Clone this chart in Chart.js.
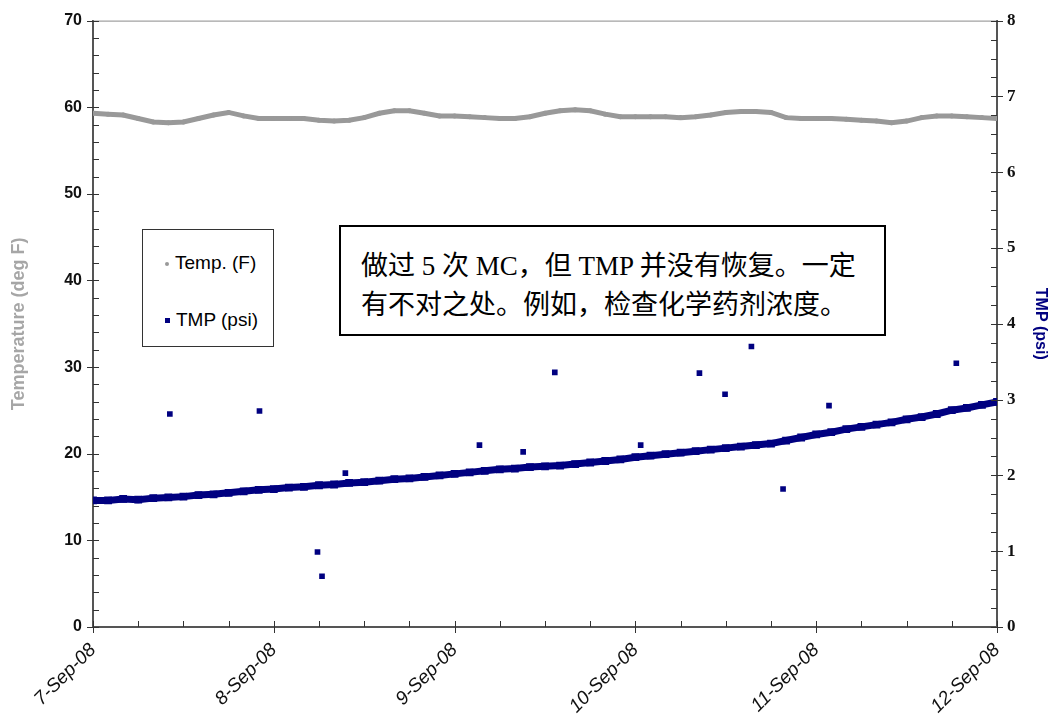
<!DOCTYPE html>
<html lang="zh">
<head>
    <meta charset="UTF-8">
    <title>Temp. (F) / TMP (psi)</title>
    <script src="https://cdn.jsdelivr.net/npm/chart.js"></script>
    <style>
        body { margin: 0; background: #fff; }
        #wrap { position: relative; width: 1050px; height: 724px; }
        #legendBox {
            position: absolute; left: 142px; top: 229px; width: 132px; height: 118px;
            border: 1px solid #333; background: #fff; box-sizing: border-box;
            font: 19px "Liberation Sans", Arial, sans-serif; color: #000;
        }
        #legendBox .item { position: absolute; left: 22px; line-height: 22px; }
        #legendBox .mark { display: inline-block; vertical-align: middle; margin-right: 6px; }
        #noteBox {
            position: absolute; left: 339px; top: 225px; width: 547px; height: 111px;
            border: 2px solid #000; background: #fff; box-sizing: border-box;
            padding: 17px 0 0 20px; line-height: 36px; white-space: nowrap;
            font: 27px "Liberation Serif", "Noto Sans CJK SC", serif; color: #000;
        }
    </style>
</head>
<body>
<div id="wrap">
    <canvas id="tmpChart"></canvas>
    <div id="legendBox">
        <div class="item" style="top:22px"><span class="mark" style="width:4px;height:4px;border-radius:50%;background:#999"></span>Temp. (F)</div>
        <div class="item" style="top:79px"><span class="mark" style="width:5px;height:5px;background:#000080"></span>TMP (psi)</div>
    </div>
    <div id="noteBox">做过 5 次 MC，但 TMP 并没有恢复。一定<br>有不对之处。例如，检查化学药剂浓度。</div>
</div>

<script>
    // horas desde 7-Sep-08 00:00
    const hours = [0, 2, 4, 6, 8, 10, 12, 14, 16, 18, 20, 22, 24, 26, 28, 30, 32, 34, 36, 38,
        40, 42, 44, 46, 48, 50, 52, 54, 56, 58, 60, 62, 64, 66, 68, 70, 72, 74, 76, 78,
        80, 82, 84, 86, 88, 90, 92, 94, 96, 98, 100, 102, 104, 106, 108, 110, 112, 114, 116, 118, 120];

    const tempF = [59.3, 59.2, 59.1, 58.7, 58.3, 58.2, 58.3, 58.7, 59.1, 59.4, 59.0, 58.7, 58.7, 58.7, 58.7, 58.5, 58.4, 58.5, 58.8, 59.3,
        59.6, 59.6, 59.3, 59.0, 59.0, 58.9, 58.8, 58.7, 58.7, 58.9, 59.3, 59.6, 59.7, 59.6, 59.2, 58.9, 58.9, 58.9, 58.9, 58.8,
        58.9, 59.1, 59.4, 59.5, 59.5, 59.4, 58.8, 58.7, 58.7, 58.7, 58.6, 58.5, 58.4, 58.2, 58.4, 58.8, 59.0, 59.0, 58.9, 58.8, 58.7];

    const tmpPsi = [1.67, 1.67, 1.69, 1.68, 1.70, 1.71, 1.72, 1.74, 1.75, 1.77, 1.79, 1.81, 1.82, 1.84, 1.85, 1.87, 1.88, 1.90, 1.91, 1.93,
        1.95, 1.96, 1.98, 2.00, 2.02, 2.04, 2.06, 2.08, 2.09, 2.11, 2.12, 2.13, 2.15, 2.17, 2.19, 2.21, 2.24, 2.26, 2.28, 2.30,
        2.32, 2.34, 2.36, 2.38, 2.40, 2.42, 2.46, 2.50, 2.54, 2.57, 2.61, 2.64, 2.67, 2.70, 2.74, 2.77, 2.81, 2.86, 2.89, 2.93, 2.97];

    // puntos sueltos de TMP
    const outlierHours = [10.2, 22.1, 29.8, 30.4, 33.5, 51.3, 57.1, 61.3, 72.7, 80.5, 83.9, 87.4, 91.6, 97.7, 114.6];
    const outlierTmp = [2.81, 2.85, 0.99, 0.67, 2.03, 2.40, 2.31, 3.36, 2.40, 3.35, 3.07, 3.70, 1.82, 2.92, 3.48];

    const dateLabels = ['7-Sep-08', '8-Sep-08', '9-Sep-08', '10-Sep-08', '11-Sep-08', '12-Sep-08'];

    const toPoints = (xs, ys) => xs.map((x, i) => ({ x: x, y: ys[i] }));

    // marcas de los ejes al estilo Excel (mayores cruzan el eje, menores hacia dentro)
    const tickMarks = {
        id: 'tickMarks',
        afterDraw(chart) {
            const ctx = chart.ctx, a = chart.chartArea;
            const sx = chart.scales.x, yl = chart.scales.yTemp, yr = chart.scales.yTmp;
            ctx.save();
            ctx.strokeStyle = '#8a8a8a';
            ctx.lineWidth = 1;
            ctx.beginPath();
            ctx.moveTo(a.left, a.top + 0.5);
            ctx.lineTo(a.right, a.top + 0.5);
            ctx.stroke();
            ctx.strokeStyle = '#333';
            ctx.beginPath();
            for (let h = 0; h <= 120; h += 6) {
                const px = Math.round(sx.getPixelForValue(h)) + 0.5;
                const major = h % 24 === 0;
                ctx.moveTo(px, a.bottom - 6);
                ctx.lineTo(px, major ? a.bottom + 6 : a.bottom);
            }
            for (let v = 0; v <= 70; v += 2) {
                const py = Math.round(yl.getPixelForValue(v)) + 0.5;
                const major = v % 10 === 0;
                ctx.moveTo(major ? a.left - 6 : a.left, py);
                ctx.lineTo(a.left + 6, py);
            }
            for (let v = 0; v <= 8; v += 0.25) {
                const py = Math.round(yr.getPixelForValue(v)) + 0.5;
                const major = v % 1 === 0;
                ctx.moveTo(a.right - 6, py);
                ctx.lineTo(major ? a.right + 6 : a.right, py);
            }
            ctx.stroke();
            ctx.restore();
        }
    };

    const ctx = document.getElementById('tmpChart').getContext('2d');
    new Chart(ctx, {
        type: 'scatter',
        data: {
            datasets: [{
                label: 'Temp. (F)',
                data: toPoints(hours, tempF),
                yAxisID: 'yTemp',
                showLine: true,
                borderColor: '#999999',
                backgroundColor: '#999999',
                borderWidth: 5,
                pointStyle: 'circle',
                pointRadius: 2.5,
                pointBorderWidth: 0
            }, {
                label: 'TMP (psi)',
                data: toPoints(hours, tmpPsi),
                yAxisID: 'yTmp',
                showLine: true,
                borderColor: '#000080',
                backgroundColor: '#000080',
                borderWidth: 7,
                pointStyle: 'rect',
                pointRadius: 5.5,
                pointBorderWidth: 0
            }, {
                label: 'TMP (psi) outliers',
                data: toPoints(outlierHours, outlierTmp),
                yAxisID: 'yTmp',
                showLine: false,
                backgroundColor: '#000080',
                pointStyle: 'rect',
                pointRadius: 4,
                pointBorderWidth: 0
            }]
        },
        options: {
            responsive: true,
            maintainAspectRatio: false,
            animation: false,
            layout: { padding: { top: 15 } },
            plugins: { legend: { display: false }, tooltip: { enabled: false } },
            scales: {
                x: {
                    type: 'linear',
                    min: 0, max: 120,
                    grid: { display: false, drawTicks: false },
                    border: { display: true, color: '#555', width: 2 },
                    afterFit: s => { s.height = 97; },
                    ticks: {
                        stepSize: 24,
                        autoSkip: false,
                        minRotation: 45, maxRotation: 45,
                        padding: 12,
                        color: '#111',
                        font: { family: '"Liberation Sans", Arial', size: 19, style: 'italic' },
                        callback: v => dateLabels[v / 24]
                    }
                },
                yTemp: {
                    position: 'left',
                    min: 0, max: 70,
                    grid: { display: false, drawTicks: false },
                    border: { display: true, color: '#555', width: 2 },
                    afterFit: s => { s.width = 93; },
                    title: {
                        display: true,
                        text: 'Temperature (deg F)',
                        color: '#a6a6a6',
                        font: { family: '"Liberation Sans", Arial', size: 18, weight: 'bold' },
                        padding: { top: 8, bottom: 0 }
                    },
                    ticks: {
                        stepSize: 10,
                        padding: 11,
                        color: '#111',
                        font: { family: '"Liberation Sans Narrow", "Liberation Sans", Arial', size: 16, weight: 'bold' }
                    }
                },
                yTmp: {
                    position: 'right',
                    min: 0, max: 8,
                    grid: { display: false, drawTicks: false },
                    border: { display: true, color: '#555', width: 2 },
                    afterFit: s => { s.width = 53; },
                    title: {
                        display: true,
                        text: 'TMP (psi)',
                        color: '#000080',
                        font: { family: '"Liberation Sans", Arial', size: 16, weight: 'bold' },
                        padding: { top: 0, bottom: 6 }
                    },
                    ticks: {
                        stepSize: 1,
                        padding: 10,
                        color: '#111',
                        font: { family: '"Liberation Serif", serif', size: 17, weight: 'bold' }
                    }
                }
            }
        },
        plugins: [tickMarks]
    });
</script>
</body>
</html>
